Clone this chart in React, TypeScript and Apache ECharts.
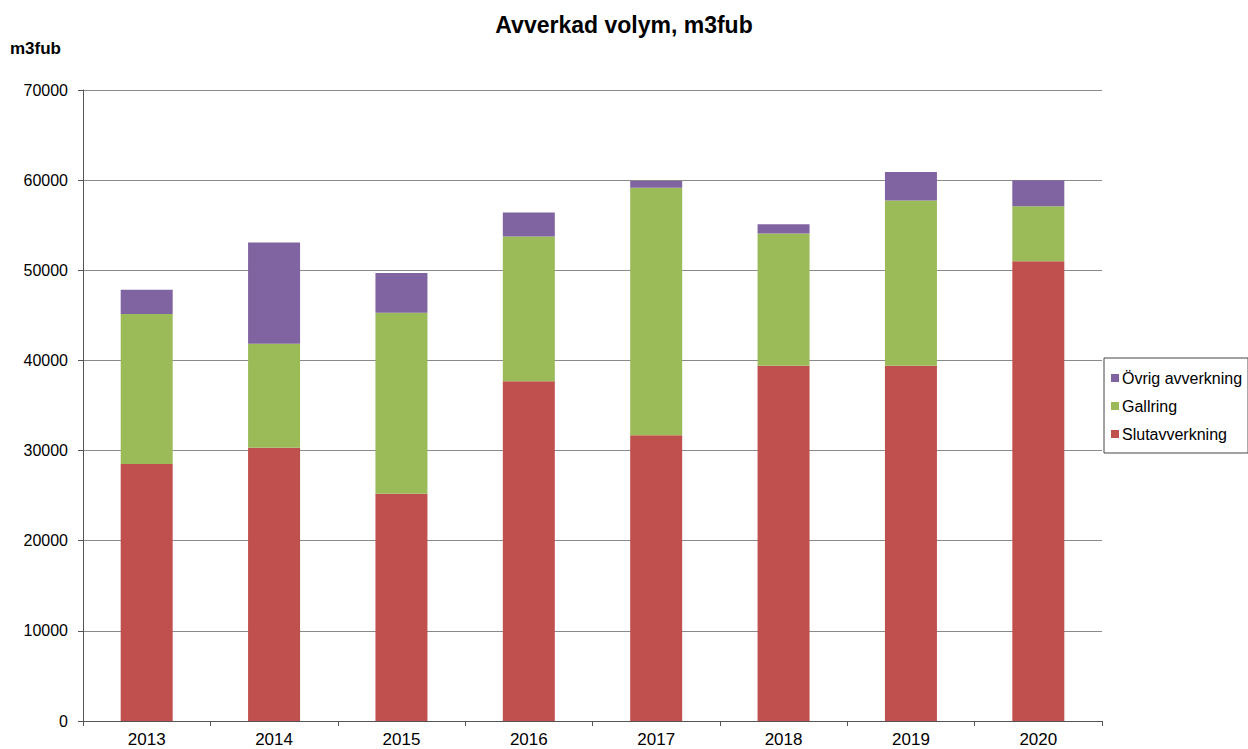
import React, { useEffect, useRef } from "react";
import * as echarts from "echarts";

const years = ["2013", "2014", "2015", "2016", "2017", "2018", "2019", "2020"];
const slutavverkning = [28500, 30300, 25200, 37700, 31700, 39400, 39400, 51000];
const gallring = [16650, 11550, 20100, 16050, 27450, 14680, 18350, 6100];
const ovrig = [2680, 11230, 4400, 2650, 750, 1020, 3150, 2900];

const FONT = "Liberation Sans, Arial, sans-serif";

export default function App() {
  const ref = useRef<HTMLDivElement>(null);
  useEffect(() => {
    if (!ref.current) return;
    const chart = echarts.init(ref.current, null, { renderer: "svg" });
    chart.setOption({
      animation: false,
      backgroundColor: "#ffffff",
      title: {
        text: "Avverkad volym, m3fub",
        left: "center",
        top: 8,
        textStyle: { fontFamily: FONT, fontSize: 23, fontWeight: "bold", color: "#000" },
      },
      graphic: [
        {
          type: "text",
          left: 10,
          top: 40,
          style: { text: "m3fub", font: `bold 17px ${FONT}`, fill: "#000" },
        },
      ],
      legend: {
        orient: "vertical",
        left: 1104,
        top: 358,
        data: ["Övrig avverkning", "Gallring", "Slutavverkning"],
        itemWidth: 8,
        itemHeight: 8,
        itemGap: 12,
        padding: [12, 6, 11, 7],
        borderColor: "#444",
        borderWidth: 1,
        icon: "rect",
        textStyle: { fontFamily: FONT, fontSize: 16, color: "#000", padding: [0, 0, 0, -2] },
      },
      grid: { left: 83, right: 146, top: 90, bottom: 28, containLabel: false },
      xAxis: {
        type: "category",
        data: years,
        axisLine: { lineStyle: { color: "#555", width: 1 } },
        axisTick: { show: true, alignWithLabel: false, length: 5, lineStyle: { color: "#555" } },
        axisLabel: { fontFamily: FONT, fontSize: 17, color: "#000", margin: 10 },
      },
      yAxis: {
        type: "value",
        min: 0,
        max: 70000,
        interval: 10000,
        axisLine: { show: true, lineStyle: { color: "#555", width: 1 } },
        axisTick: { show: true, length: 5, lineStyle: { color: "#555" } },
        axisLabel: {
          fontFamily: FONT,
          fontSize: 16,
          color: "#000",
          margin: 15,
          formatter: (v: number) => String(v),
        },
        splitLine: { lineStyle: { color: "#8a8a8a", width: 1 } },
      },
      series: [
        {
          name: "Slutavverkning",
          type: "bar",
          stack: "total",
          data: slutavverkning,
          barWidth: 52,
          itemStyle: { color: "#C0504D" },
        },
        {
          name: "Gallring",
          type: "bar",
          stack: "total",
          data: gallring,
          barWidth: 52,
          itemStyle: { color: "#9BBB59" },
        },
        {
          name: "Övrig avverkning",
          type: "bar",
          stack: "total",
          data: ovrig,
          barWidth: 52,
          itemStyle: { color: "#8064A2" },
        },
      ],
    });
    return () => chart.dispose();
  }, []);
  return (
    <div
      ref={ref}
      style={{ position: "absolute", left: 0, top: 0, width: 1248, height: 749 }}
    />
  );
}
